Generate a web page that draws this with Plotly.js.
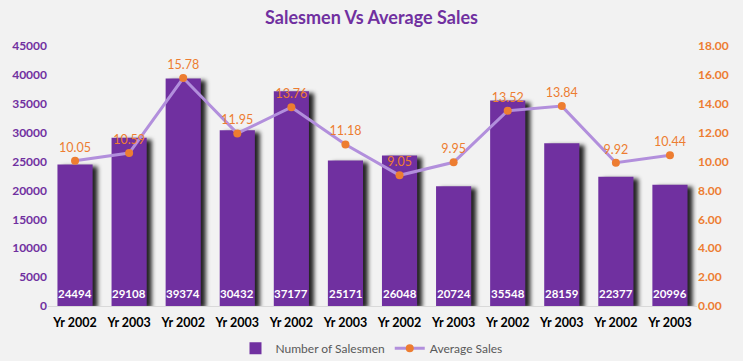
<!DOCTYPE html>
<html>
<head>
<meta charset="utf-8">
<script src="https://cdn.plot.ly/plotly-3.0.1.min.js"></script>
<style>
html,body{margin:0;padding:0;background:#F2F2F2;}
#chart{width:743px;height:361px;}
.trace.bars .point path{filter:drop-shadow(5px 2px 2px rgba(0,0,0,0.85));}
</style>
</head>
<body>
<div id="chart"></div>
<script>
const categories = ["Yr 2002","Yr 2003","Yr 2002","Yr 2003","Yr 2002","Yr 2003","Yr 2002","Yr 2003","Yr 2002","Yr 2003","Yr 2002","Yr 2003"];
const salesmen = [24494,29108,39374,30432,37177,25171,26048,20724,35548,28159,22377,20996];
const avgSales = [10.05,10.59,15.78,11.95,13.76,11.18,9.05,9.95,13.52,13.84,9.92,10.44];
const leftTicks = [0,5000,10000,15000,20000,25000,30000,35000,40000,45000];
const rightTicks = [0,2,4,6,8,10,12,14,16,18];

const idx = categories.map((_, i) => i);
const FONT = "Lato, 'Open Sans', sans-serif";

const traces = [
  {
    type: 'bar', name: 'Number of Salesmen', x: idx, y: salesmen,
    marker: {color: '#7030A0'},
    hoverinfo: 'none'
  },
  {
    type: 'scatter', mode: 'lines+markers+text', name: 'Average Sales', x: idx, y: avgSales,
    yaxis: 'y2',
    line: {color: '#B28FDC', width: 3},
    marker: {color: '#ED7D31', size: 8},
    text: avgSales.map(v => v.toFixed(2)), textposition: 'top center',
    textfont: {color: '#ED7D31', size: 12.5, family: FONT},
    hoverinfo: 'none', cliponaxis: false
  }
];

// bar value labels, anchored at each bar's base through the axes
const barLabels = salesmen.map((v, i) => ({
  x: idx[i], y: 0, xref: 'x', yref: 'y', yanchor: 'bottom', yshift: 4,
  text: String(v), showarrow: false,
  font: {color: '#FFFFFF', size: 11.5, family: FONT, weight: 'bold'}
}));

const layout = {
  width: 743, height: 361,
  paper_bgcolor: '#F2F2F2', plot_bgcolor: '#F2F2F2',
  margin: {l: 48, r: 46, t: 46, b: 55},
  bargap: 0.35,
  showlegend: true,
  annotations: barLabels,
  title: {text: 'Salesmen Vs Average Sales', x: 0.5, xanchor: 'center', yref: 'container', y: 0.95, yanchor: 'middle',
    font: {family: FONT, size: 18, color: '#7030A0', weight: 'bold'}},
  xaxis: {
    tickmode: 'array', tickvals: idx, ticktext: categories,
    range: [-0.5, 11.5], showgrid: false, zeroline: false,
    showline: true, linecolor: '#D9D9D9', linewidth: 1, ticks: '',
    ticklabelstandoff: 5,
    tickfont: {family: FONT, size: 12.5, color: '#000000', weight: 'bold'}
  },
  yaxis: {
    range: [0, 45000], tickmode: 'array', tickvals: leftTicks, ticktext: leftTicks.map(String),
    showgrid: false, zeroline: false, showline: false, ticks: '',
    tickfont: {family: FONT, size: 12, color: '#7030A0', weight: 'bold'}
  },
  yaxis2: {
    overlaying: 'y', side: 'right', range: [0, 18],
    tickmode: 'array', tickvals: rightTicks, ticktext: rightTicks.map(v => v.toFixed(2)),
    showgrid: false, zeroline: false, showline: false, ticks: '',
    tickfont: {family: FONT, size: 12, color: '#ED7D31', weight: 'bold'}
  },
  legend: {orientation: 'h', x: 0.5, xanchor: 'center', xref: 'container', yref: 'container', y: 0.035, yanchor: 'middle',
    font: {family: FONT, size: 12, color: '#595959'}, bgcolor: 'rgba(0,0,0,0)'}
};

Plotly.newPlot('chart', traces, layout, {displayModeBar: false, staticPlot: true});
</script>
</body>
</html>
